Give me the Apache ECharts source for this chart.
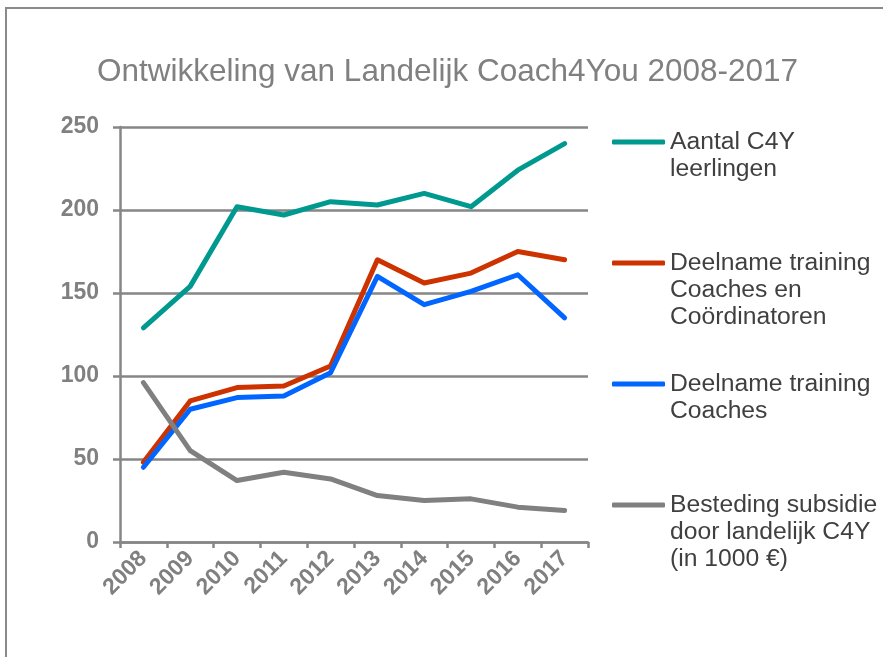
<!DOCTYPE html>
<html>
<head>
<meta charset="utf-8">
<script src="https://cdn.jsdelivr.net/npm/echarts@6/dist/echarts.min.js"></script>
<style>
html,body{margin:0;padding:0;background:#fff;overflow:hidden;}
#frame{position:absolute;left:5px;top:7px;width:1000px;height:1000px;border:2px solid #8a8a8a;box-sizing:border-box;}
#chart{position:absolute;left:0;top:0;width:883px;height:657px;}
</style>
</head>
<body>
<div id="frame"></div>
<div id="chart"></div>
<script>
const titleText = 'Ontwikkeling van Landelijk Coach4You 2008-2017';
const years = ['2008','2009','2010','2011','2012','2013','2014','2015','2016','2017'];
const yTicks = [0, 50, 100, 150, 200, 250];

const seriesNames = [
  'Aantal C4Y\nleerlingen',
  'Deelname training\nCoaches en\nCoördinatoren',
  'Deelname training\nCoaches',
  'Besteding subsidie\ndoor landelijk C4Y\n(in 1000 €)'
];
const leerlingen = [129, 154, 202, 197, 205, 203, 210, 202, 224, 240];
const coachesCoordinatoren = [48, 85, 93, 94, 106, 170, 156, 162, 175, 170];
const coaches = [45, 80, 87, 88, 102, 160, 143, 151, 161, 135];
const subsidie = [96, 55, 37, 42, 38, 28, 25, 26, 21, 19];

const colors = ['#00998F', '#CC3300', '#0066FF', '#808080'];
const values = [leerlingen, coachesCoordinatoren, coaches, subsidie];

const axisColor = '#868686';
const lineH = 27;

const chart = echarts.init(document.getElementById('chart'), null, {renderer: 'canvas'});

chart.setOption({
  animation: false,
  backgroundColor: 'transparent',
  title: {
    text: titleText,
    left: 97,
    top: 56,
    padding: 0,
    textStyle: {
      fontFamily: 'Liberation Sans',
      fontSize: 31.5,
      fontWeight: 'normal',
      color: '#808080'
    }
  },
  legend: {
    orient: 'vertical',
    left: 612,
    top: 101.5,
    padding: 0,
    itemGap: 13,
    itemWidth: 53,
    itemHeight: 5,
    icon: 'roundRect',
    data: seriesNames,
    formatter: function (name) {
      const n = name.split('\n').length;
      return '\n'.repeat(n - 1) + name;
    },
    textStyle: {
      fontFamily: 'Liberation Sans',
      fontSize: 24.7,
      lineHeight: lineH,
      color: '#404040'
    }
  },
  grid: {
    left: 120,
    right: 295,
    top: 127,
    bottom: 115,
    outerBoundsMode: 'none'
  },
  xAxis: {
    type: 'category',
    data: years,
    boundaryGap: true,
    axisLine: { lineStyle: { color: axisColor, width: 2.5 } },
    axisTick: { show: true, length: 6, lineStyle: { color: axisColor, width: 2.5 } },
    axisLabel: {
      rotate: 45,
      margin: 13,
      fontFamily: 'Liberation Sans',
      fontSize: 23,
      fontWeight: 'bold',
      color: '#808080'
    },
    splitLine: { show: false }
  },
  yAxis: {
    type: 'value',
    min: yTicks[0],
    max: yTicks[yTicks.length - 1],
    interval: 50,
    axisLine: { show: true, lineStyle: { color: axisColor, width: 2.5 } },
    axisTick: { show: true, length: 7, lineStyle: { color: axisColor, width: 2.5 } },
    axisLabel: {
      margin: 21,
      fontFamily: 'Liberation Sans',
      fontSize: 23,
      fontWeight: 'bold',
      color: '#808080'
    },
    splitLine: { show: true, lineStyle: { color: axisColor, width: 2.5 } }
  },
  series: seriesNames.map(function (name, i) {
    return {
      name: name,
      type: 'line',
      data: values[i],
      symbol: 'none',
      showSymbol: false,
      smooth: false,
      color: colors[i],
      lineStyle: { width: 5, color: colors[i], join: 'round', cap: 'round' }
    };
  })
});
</script>
</body>
</html>
